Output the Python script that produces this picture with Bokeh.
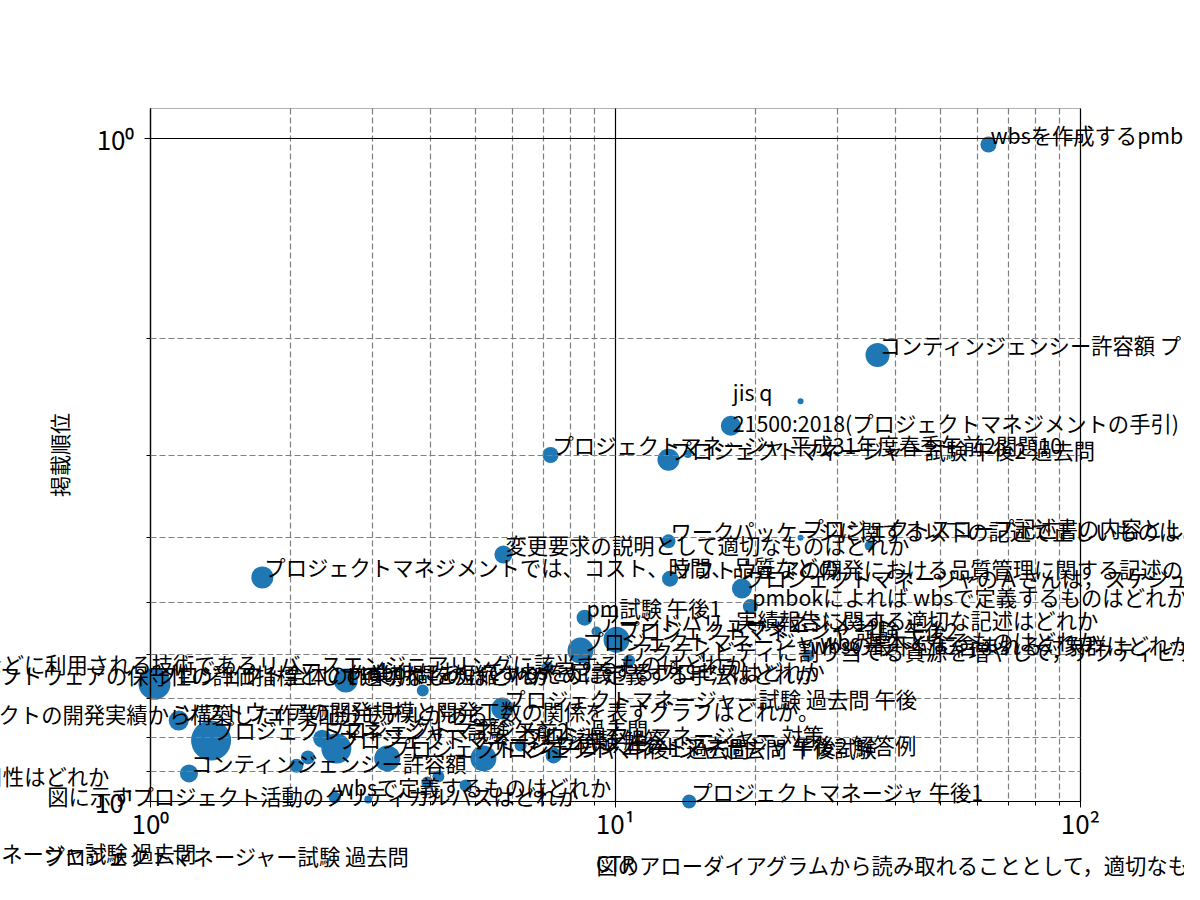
import math
import numpy as np
from bokeh.plotting import figure
from bokeh.models import (ColumnDataSource, LabelSet, FixedTicker, Range1d,
                          CDSView, BooleanFilter, BoxAnnotation)
from bokeh.core.properties import value
from bokeh.embed import file_html
from bokeh.resources import INLINE

# ---- data: CTR (%), average position, impressions, query ----
ctr = [63.4, 36.6, 25.0, 17.7, 7.25, 13.0, 14.3, 13.0, 25.0, 35.2,
       5.74, 1.74, 13.1, 18.7, 19.5, 8.58, 9.10, 18.0, 10.05, 8.41,
       10.7, 26.0, 7.14, 1.02, 2.63, 3.85, 5.71, 1.15, 1.35, 2.34,
       2.51, 3.23, 2.06, 2.18, 6.25, 7.36, 5.20, 1.21, 3.94, 4.16,
       4.76, 2.49, 2.94, 14.4,
       0.347, 0.422, 0.306, 0.166, 0.594, 0.226, 0.583, 9.01]
rank = [1.02, 2.12, 2.49, 2.71, 3.00, 3.05, 2.99, 4.05, 4.00, 4.11,
        4.24, 4.59, 4.61, 4.77, 5.08, 5.28, 5.54, 5.52, 5.70, 5.92,
        6.13, 6.02, 6.28, 6.64, 6.57, 6.80, 7.24, 7.55, 8.09, 8.04,
        8.32, 8.61, 8.83, 8.58, 8.23, 8.52, 8.61, 9.07, 9.36, 9.17,
        9.46, 9.86, 9.93, 10.0,
        6.41, 6.68, 7.63, 9.46, 10.14, 12.4, 12.5, 12.93]
impressions = [256, 576, 36, 400, 256, 484, 64, 196, 36, 100,
               324, 484, 256, 400, 225, 256, 100, 16, 676, 676,
               144, 144, 144, 1024, 576, 144, 484, 400, 1600, 324,
               900, 676, 196, 196, 144, 256, 676, 324, 144, 144,
               144, 144, 64, 196,
               400, 400, 400, 400, 400, 400, 400, 400]
query = [
    "wbsを作成するpmbok",
    "コンティンジェンシー許容額 プロジェクトマネージャ",
    "",
    "jis q\n21500:2018(プロジェクトマネジメントの手引)",
    "プロジェクトマネージャ 平成31年度春季午前2問題10",
    "プロジェクトマネージャー試験 午後2 過去問",
    "",
    "ワークパッケージに関する以下の記述で正しいものはどれか",
    "プロジェクトスコープ記述書の内容として正しいものはどれか",
    "",
    "変更要求の説明として適切なものはどれか",
    "プロジェクトマネジメントでは、コスト、時間、品質などの",
    "ソフトウェアの開発における品質管理に関する記述のうち，適切なものはどれか",
    "プロジェクトマネージャのＡさんは，スケジュールを作成している",
    "pmbokによれば wbsで定義するものはどれか。",
    "pm試験 午後1",
    "アーンドバリューマネジメント",
    "実績報告に関する適切な記述はどれか",
    "プロジェクトマネージャ 試験 午後2",
    "プロジェクトマネージャ wbs 基本となるものはどれか",
    "アクティビティに割り当てる資源を増やして，アクティビティの所要期間を短縮する技法はどれか",
    "wbsの最下位に含まれる対象群はどれか",
    "",
    "プロジェクト全体の作業期間を短縮するために定義する手法はどれか",
    "pmbokにおいて wbsを定義するプロセスはどれか",
    "",
    "プロジェクトマネージャー試験 過去問 午後",
    "ソフトウェアの開発規模と開発工数の関係を表すグラフはどれか。",
    "プロジェクトマネージャー試験 午前2",
    "プロジェクトマネジメント 過去問",
    "プロジェクトマネージャ 試験 解答",
    "プロジェクトマネージャ 午後1 過去問",
    "",
    "",
    "プロジェクトマネージャー 対策",
    "プロジェクトマネージャ 午後2 解答例",
    "プロジェクトマネージャ 過去問 午後試験",
    "コンティンジェンシー許容額",
    "",
    "",
    "",
    "wbsで定義するものはどれか",
    "",
    "プロジェクトマネージャ 午後1",
    "保守などに利用される技術であるリバースエンジニアリングに該当するものはどれか",
    "ソフトウェアの保守性の評価指標として適切なものはどれか",
    "プロジェクトの開発実績から構築した作業配分モデルがある。",
    "品質特性のうち，使用性はどれか",
    "図に示すプロジェクト活動のクリティカルパスはどれか",
    "プロジェクトマネージャ試験 過去問",
    "プロジェクトマネージャー試験 過去問",
    "図のアローダイアグラムから読み取れることとして，適切なものはどれか",
]

x_major = [1, 10, 100]
x_minor = [2, 3, 4, 5, 6, 7, 8, 9, 20, 30, 40, 50, 60, 70, 80, 90]
x_tick_labels = ["10⁰", "10¹", "10²"]
y_major = [1, 10]
y_minor = [2, 3, 4, 5, 6, 7, 8, 9]
y_tick_labels = ["10⁰", "10¹"]
x_lim = (1, 100)
y_lim = (10, 0.9)   # inverted: best position at the top

FONT = "Noto Sans CJK JP"

# ---- layout: the canvas is the plotting frame; the axes box sits inside it
W, H = 1184, 884
BOX_L, BOX_R, BOX_T, BOX_B = 150, 1080, 108, 801   # canvas pixels of the axes box
dec_x = (BOX_R - BOX_L) / (math.log10(x_lim[1]) - math.log10(x_lim[0]))
dec_y = (BOX_B - BOX_T) / (math.log10(y_lim[0]) - math.log10(y_lim[1]))
x_start = 10 ** (math.log10(x_lim[0]) - BOX_L / dec_x)
x_end = 10 ** (math.log10(x_lim[1]) + (W - BOX_R) / dec_x)
y_top = 10 ** (math.log10(y_lim[1]) - BOX_T / dec_y)
y_bottom = 10 ** (math.log10(y_lim[0]) + (H - BOX_B) / dec_y)

n_lines = [q.count("\n") for q in query]
src = ColumnDataSource(dict(
    ctr=ctr, rank=rank, query=query,
    sz=list(np.sqrt(np.array(impressions, dtype=float))),
    yoff=[1 + 18 * k for k in n_lines],
))
inside = [(x_lim[0] <= c <= x_lim[1]) and (y_lim[1] <= r <= y_lim[0])
          for c, r in zip(ctr, rank)]

p = figure(width=W, height=H, x_axis_type="log", y_axis_type="log",
           x_range=Range1d(x_start, x_end), y_range=Range1d(y_bottom, y_top),
           output_backend="svg", toolbar_location=None, title=None,
           min_border=0, min_border_left=0, min_border_right=0,
           min_border_top=0, min_border_bottom=0)
p.background_fill_color = "white"
p.border_fill_color = "white"
p.outline_line_color = None

p.scatter("ctr", "rank", size="sz", source=src,
          view=CDSView(filter=BooleanFilter(inside)),
          fill_color="#1f77b4", line_color=None)

xa, ya = p.xaxis[0], p.yaxis[0]
xa.ticker = FixedTicker(ticks=x_major, minor_ticks=x_minor)
ya.ticker = FixedTicker(ticks=y_major, minor_ticks=y_minor)
xa.major_label_overrides = dict(zip(x_major, x_tick_labels))
ya.major_label_overrides = dict(zip(y_major, y_tick_labels))
xa.fixed_location = y_lim[0]
ya.fixed_location = x_lim[0]
xa.bounds = x_lim
ya.bounds = (y_lim[1], y_lim[0])

for ax in (xa, ya):
    ax.axis_line_color = "black"
    ax.axis_line_width = 1.2
    ax.major_tick_line_color = "black"
    ax.minor_tick_line_color = "black"
    ax.major_tick_in = 0
    ax.major_tick_out = 6
    ax.minor_tick_in = 0
    ax.minor_tick_out = 4
    ax.major_label_text_font = FONT
    ax.major_label_text_font_size = "26px"
    ax.major_label_text_color = "black"
    ax.axis_label_text_font = FONT
    ax.axis_label_text_font_size = "21px"
    ax.axis_label_text_font_style = "normal"
    ax.axis_label_text_color = "black"

xa.axis_label = "CTR"
ya.axis_label = "掲載順位"
xa.major_label_standoff = -4
ya.major_label_standoff = 10
xa.axis_label_standoff = 4
ya.axis_label_standoff = 18

gx, gy = p.xgrid[0], p.ygrid[0]
gx.bounds = x_lim
gy.bounds = (y_lim[1], y_lim[0])
gx.cross_bounds = (y_lim[1], y_lim[0])
gy.cross_bounds = x_lim
for g in (gx, gy):
    g.grid_line_color = "black"
    g.grid_line_width = 1.2
    g.minor_grid_line_color = "gray"
    g.minor_grid_line_dash = "6 3"
    g.minor_grid_line_width = 1.2
    g.level = "guide"

p.add_layout(BoxAnnotation(left=x_lim[0], right=x_lim[1], top=y_lim[1],
                           bottom=y_lim[0], fill_alpha=0, fill_color=None,
                           line_color="black", line_width=1.2))

labels = LabelSet(x="ctr", y="rank", text="query", source=src,
                  text_font=value(FONT), text_font_size=value("21.3px"),
                  text_color="black", text_baseline="alphabetic",
                  text_align="left", text_line_height=1.0,
                  x_offset=2, y_offset="yoff")
p.add_layout(labels)

open("out.html", "w").write(file_html(p, INLINE))
